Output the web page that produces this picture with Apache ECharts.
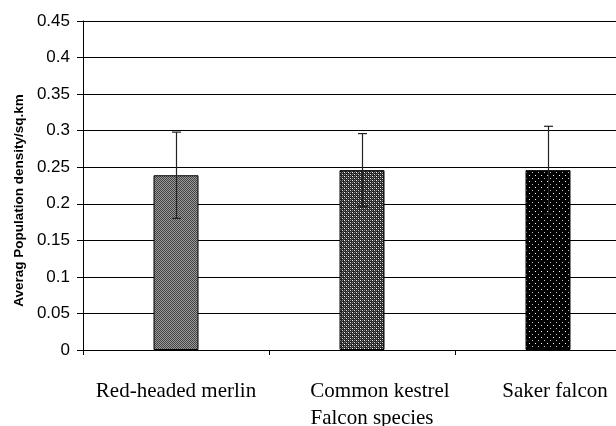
<!DOCTYPE html>
<html><head><meta charset="utf-8">
<script src="https://cdn.jsdelivr.net/npm/echarts@6/dist/echarts.min.js"></script>
<style>html,body{margin:0;padding:0;background:#fff}#c{width:616px;height:426px}</style>
</head><body><div id="c"></div>
<script>
var categories = ['Red-headed merlin', 'Common kestrel', 'Saker falcon'];
var means = [0.239, 0.246, 0.246];
var errors = [0.059, 0.050, 0.060];
var yTicks = [0, 0.05, 0.1, 0.15, 0.2, 0.25, 0.3, 0.35, 0.4, 0.45];
var labelShift = [0, 36, 14];

function pattern(w, h, bg, dots) {
  var c = document.createElement('canvas');
  c.width = w; c.height = h;
  var g = c.getContext('2d');
  g.fillStyle = bg; g.fillRect(0, 0, w, h);
  dots.forEach(function (d) { g.fillStyle = d[2]; g.fillRect(d[0], d[1], 1, 1); });
  return { image: c, repeat: 'repeat' };
}
var fills = [
  pattern(2, 2, '#9a9a9a', [[0,0,'#444'],[1,1,'#444']]),
  pattern(4, 4, '#222', [[0,0,'#fff'],[2,0,'#888'],[0,2,'#888'],[2,2,'#ddd'],[1,1,'#555'],[3,3,'#555']]),
  pattern(6, 6, '#000', [[1,1,'#fff'],[4,4,'#bbb']])
];

var chart = echarts.init(document.getElementById('c'), null, { renderer: 'canvas' });
chart.setOption({
  animation: false,
  backgroundColor: '#fff',
  grid: { left: 83, top: 21, right: -25, bottom: 76, containLabel: false, outerBoundsMode: 'none' },
  xAxis: {
    type: 'category',
    data: categories.map(function (c, i) { return { value: c, textStyle: { padding: [0, 0, 0, labelShift[i]] } }; }),
    name: 'Falcon species', nameLocation: 'middle', nameGap: 58,
    nameTextStyle: { fontFamily: 'Liberation Serif', fontSize: 21, color: '#000', padding: [0, 0, 0, 20] },
    axisLine: { lineStyle: { color: '#000', width: 1 } },
    axisTick: { show: true, length: 5, lineStyle: { color: '#000' } },
    axisLabel: { fontFamily: 'Liberation Serif', fontSize: 21, color: '#000', margin: 31, interval: 0 }
  },
  yAxis: {
    type: 'value', min: 0, max: 0.45, interval: 0.05,
    name: 'Averag Population density/sq.km', nameLocation: 'middle', nameGap: 53, nameRotate: 90,
    nameTextStyle: { fontFamily: 'Liberation Sans', fontSize: 13.5, fontWeight: 'bold', color: '#000', padding: [0, 30, 0, 0] },
    axisLine: { show: true, lineStyle: { color: '#000', width: 1 } },
    axisTick: { show: true, length: 6, lineStyle: { color: '#000' } },
    axisLabel: { fontFamily: 'Liberation Sans', fontSize: 17, color: '#000', margin: 13,
      formatter: function (v) { var i = yTicks.indexOf(+v.toFixed(2)); return i >= 0 ? String(yTicks[i]) : ''; } },
    splitLine: { show: true, lineStyle: { color: '#000', width: 1 } }
  },
  series: [
    {
      type: 'bar', barWidth: 45,
      data: means.map(function (v, i) {
        return { value: v, itemStyle: { color: fills[i], borderColor: '#000', borderWidth: 1 } };
      })
    },
    {
      type: 'custom', z: 10,
      data: means.map(function (v, i) { return [i, v - errors[i], v + errors[i]]; }),
      renderItem: function (params, api) {
        var lo = api.coord([api.value(0), api.value(1)]);
        var hi = api.coord([api.value(0), api.value(2)]);
        var x = Math.round(lo[0]) + 0.5, cw = 4.5;
        var st = { stroke: '#222', lineWidth: 1.2 };
        return { type: 'group', children: [
          { type: 'line', shape: { x1: x, y1: lo[1], x2: x, y2: hi[1] }, style: st },
          { type: 'line', shape: { x1: x - cw, y1: hi[1], x2: x + cw, y2: hi[1] }, style: st },
          { type: 'line', shape: { x1: x - cw, y1: lo[1], x2: x + cw, y2: lo[1] }, style: st }
        ] };
      }
    }
  ]
});
</script></body></html>
